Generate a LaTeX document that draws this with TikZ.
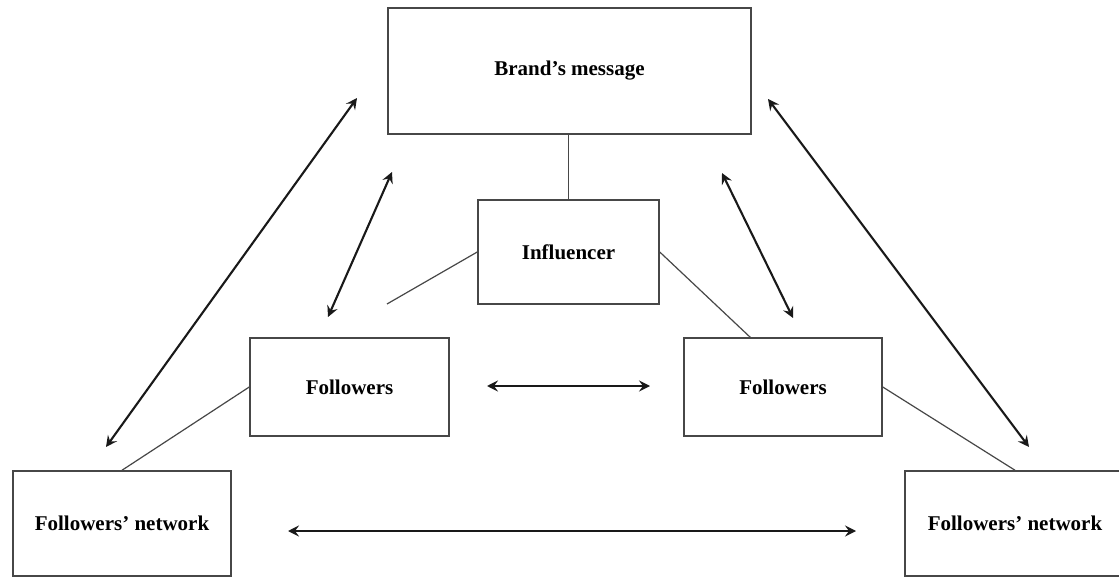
\documentclass[tikz,border=0pt]{standalone}
\usepackage{fontspec}
\setmainfont{Liberation Serif}
\usetikzlibrary{arrows.meta}
\begin{document}
\begin{tikzpicture}[x=1pt,y=-1pt,
  box/.style={draw=black!72,line width=1.5pt,fill=white,inner sep=0pt,
    font=\fontsize{21}{25}\selectfont\bfseries},
  link/.style={draw=black!72,line width=1.2pt},
  tip/.tip={Stealth[length=11pt,width=11pt,inset=4pt]},
  twoway/.style={draw=black!90,line width=2.1pt,tip-tip}]
\clip (0,0) rectangle (1119,577);
\fill[white] (0,0) rectangle (1119,577);
% boxes
\node[box,minimum width=363pt,minimum height=126pt] (brand) at (569.5,71) {Brand’s message};
\node[box,minimum width=181pt,minimum height=104pt] (infl) at (568.5,252) {Influencer};
\node[box,minimum width=199pt,minimum height=98pt] (folL) at (349.5,387) {Followers};
\node[box,minimum width=198pt,minimum height=98pt] (folR) at (783,387) {Followers};
\node[box,minimum width=218pt,minimum height=105pt] (netL) at (122,523.5) {Followers’ network};
\node[box,minimum width=220pt,minimum height=105pt] (netR) at (1015,523.5) {Followers’ network};
% free ends
\coordinate (infLend) at (387,304);
\coordinate (oLa) at (357,98);  \coordinate (oLb) at (106,447);
\coordinate (iLa) at (392,172); \coordinate (iLb) at (328,317);
\coordinate (iRa) at (722,173); \coordinate (iRb) at (793,318);
\coordinate (oRa) at (768,99);  \coordinate (oRb) at (1029,447);
\coordinate (mA) at (487,386);  \coordinate (mB) at (650,386);
\coordinate (bA) at (288,531);  \coordinate (bB) at (856,531);
% plain links
\draw[link] (568.5,134) -- (infl.north);
\draw[link] (infl.west) -- (infLend);
\draw[link] (infl.east) -- (751,338);
\draw[link] (folL.west) -- (netL.north);
\draw[link] (folR.east) -- (netR.north);
% two-way arrows
\draw[twoway] (oLa) -- (oLb);
\draw[twoway] (iLa) -- (iLb);
\draw[twoway] (iRa) -- (iRb);
\draw[twoway] (oRa) -- (oRb);
\draw[twoway] (mA) -- (mB);
\draw[twoway] (bA) -- (bB);
\end{tikzpicture}
\end{document}
